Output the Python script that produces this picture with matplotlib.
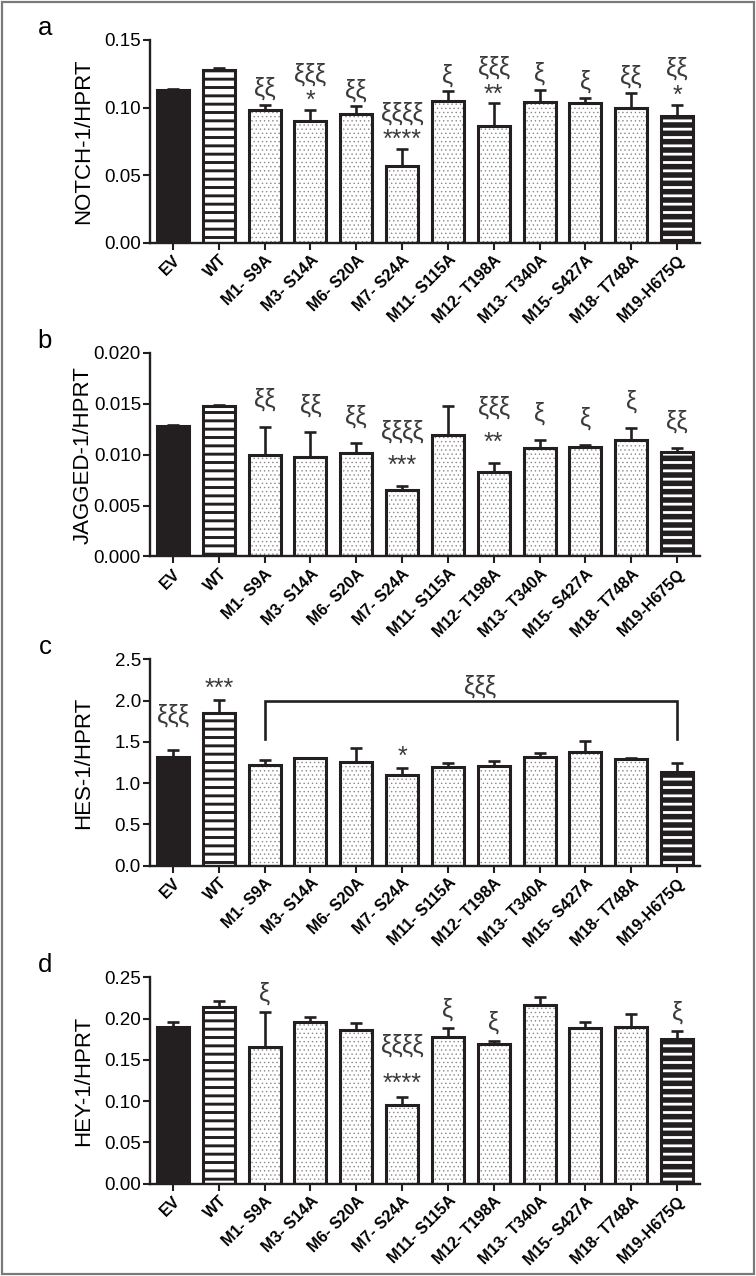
import matplotlib
matplotlib.use('Agg')
import matplotlib.pyplot as plt
from matplotlib.patches import Rectangle
from matplotlib.ticker import FormatStrFormatter

plt.rcParams['font.family'] = ['Liberation Sans', 'DejaVu Sans']

# groups on the x axis
groups = ['EV', 'WT', 'M1- S9A', 'M3- S14A', 'M6- S20A', 'M7- S24A', 'M11- S115A',
          'M12- T198A', 'M13- T340A', 'M15- S427A', 'M18- T748A', 'M19-H675Q']

# a: NOTCH-1
notch_mean = [0.113, 0.128, 0.098, 0.090, 0.095, 0.057, 0.105, 0.086, 0.104, 0.103, 0.100, 0.094]
notch_err = [0.001, 0.001, 0.004, 0.008, 0.006, 0.012, 0.007, 0.017, 0.009, 0.004, 0.011, 0.008]
notch_stars = ['', '', '', '*', '', '****', '', '**', '', '', '', '*']
notch_xi = ['', '', 'ξξ', 'ξξξ', 'ξξ', 'ξξξξ', 'ξ', 'ξξξ', 'ξ', 'ξ', 'ξξ', 'ξξ']

# b: JAGGED-1
jag_mean = [0.0128, 0.0148, 0.0100, 0.0098, 0.0102, 0.0065, 0.0119, 0.0083, 0.0106, 0.0107, 0.0114, 0.0103]
jag_err = [0.0001, 0.0001, 0.0027, 0.0024, 0.0009, 0.0004, 0.0029, 0.0009, 0.0008, 0.0002, 0.0012, 0.0003]
jag_stars = ['', '', '', '', '', '***', '', '**', '', '', '', '']
jag_xi = ['', '', 'ξξ', 'ξξ', 'ξξ', 'ξξξξ', '', 'ξξξ', 'ξ', 'ξ', 'ξ', 'ξξ']

# c: HES-1
hes_mean = [1.32, 1.85, 1.22, 1.30, 1.25, 1.10, 1.19, 1.21, 1.32, 1.38, 1.29, 1.13]
hes_err = [0.08, 0.16, 0.06, 0.005, 0.17, 0.08, 0.05, 0.06, 0.04, 0.13, 0.01, 0.11]
hes_stars = ['', '***', '', '', '', '*', '', '', '', '', '', '']
hes_xi = ['ξξξ', '', '', '', '', '', '', '', '', '', '', '']
hes_bracket = ('M1- S9A', 'M19-H675Q', 2.0, 1.53, 'ξξξ')

# d: HEY-1
hey_mean = [0.190, 0.214, 0.165, 0.196, 0.186, 0.095, 0.178, 0.169, 0.217, 0.188, 0.190, 0.175]
hey_err = [0.006, 0.007, 0.043, 0.006, 0.008, 0.010, 0.011, 0.004, 0.009, 0.008, 0.016, 0.010]
hey_stars = ['', '', '', '', '', '****', '', '', '', '', '', '']
hey_xi = ['', '', 'ξ', '', '', 'ξξξξ', 'ξ', 'ξ', '', '', '', 'ξ']

DARK = '#231f20'
ANN = '#3a3a3a'
LW = 2.2
W, H = 756, 1276

fig = plt.figure(figsize=(W / 100, H / 100), dpi=100)
fig.patches.append(Rectangle((2 / W, 2 / H), 1 - 4 / W, 1 - 4 / H, transform=fig.transFigure,
                             fill=False, edgecolor='#7a7a7a', linewidth=1.6))


def hatched_bar(ax, x, h, face, hatch, hcolor, hlw):
    plt.rcParams['hatch.linewidth'] = hlw
    b = ax.bar(x, h, width=0.7, color=face, edgecolor=hcolor, linewidth=0, hatch=hatch, zorder=2)
    for p in b:
        if hasattr(p, 'set_hatch_linewidth'):
            p.set_hatch_linewidth(hlw)
    ax.bar(x, h, width=0.7, color='none', edgecolor=DARK, linewidth=LW, zorder=3)


def note(ax, txt, xy, off, size):
    # stars sit high in the font, nudge them down a bit
    if txt.startswith('*'):
        off -= 5
    ax.annotate(txt, xy, xytext=(0, off), textcoords='offset pixels',
                ha='center', va='center', fontsize=size, color=ANN)


panels = [
    ('a', 'NOTCH-1/HPRT', notch_mean, notch_err, notch_stars, notch_xi, 0.15, 0.05, '%.2f', (14, 16, 22), None),
    ('b', 'JAGGED-1/HPRT', jag_mean, jag_err, jag_stars, jag_xi, 0.020, 0.005, '%.3f', (25, 27, 30), None),
    ('c', 'HES-1/HPRT', hes_mean, hes_err, hes_stars, hes_xi, 2.5, 0.5, '%.1f', (16, 34, 30), hes_bracket),
    ('d', 'HEY-1/HPRT', hey_mean, hey_err, hey_stars, hey_xi, 0.25, 0.05, '%.2f', (18, 18, 33), None),
]
tops = [40, 352.7, 659.3, 977.3]
bottoms = [242.5, 556.5, 865.5, 1183.5]

for k, (letter, ylab, mean, err, stars, xis, ymax, step, fmt, offs, bracket) in enumerate(panels):
    ax = fig.add_axes([150 / W, 1 - bottoms[k] / H, 550 / W, (bottoms[k] - tops[k]) / H])
    x = list(range(len(groups)))
    ax.bar(x[0], mean[0], width=0.7, color=DARK, edgecolor=DARK, linewidth=LW, zorder=3)
    hatched_bar(ax, x[1], mean[1], 'white', '--', DARK, 2.1)
    hatched_bar(ax, x[2:-1], mean[2:-1], 'white', '....', '#8a8a8a', 0.5)
    hatched_bar(ax, x[-1], mean[-1], DARK, '--', 'white', 2.0)
    ax.errorbar(x, mean, yerr=[[0] * len(err), err], fmt='none', ecolor=DARK,
                elinewidth=1.9, capsize=4.5, capthick=1.9, zorder=1)

    for i in x:
        top = mean[i] + err[i]
        if stars[i]:
            note(ax, stars[i], (i, top), offs[0], 18)
        if xis[i]:
            off = offs[0] + offs[2] if stars[i] else offs[1]
            note(ax, xis[i], (i, top), off, 18)

    if bracket:
        i0, i1 = groups.index(bracket[0]), groups.index(bracket[1])
        lev, leg = bracket[2], bracket[3]
        ax.plot([i0, i0, i1, i1], [leg, lev, lev, leg], color=DARK, lw=1.9, zorder=4,
                solid_joinstyle='miter', clip_on=False)
        note(ax, bracket[4], ((i0 + i1) / 2 + 0.2, lev), 14, 18)

    ax.set_xlim(-0.5, 11.5)
    ax.set_ylim(0, ymax)
    n = int(round(ymax / step))
    ax.set_yticks([step * j for j in range(n + 1)])
    ax.yaxis.set_major_formatter(FormatStrFormatter(fmt))
    ax.set_xticks(x)
    ax.set_xticklabels(groups, rotation=45, ha='right', va='top', rotation_mode='anchor',
                       fontsize=11.5, fontweight='bold')
    for s in ['top', 'right']:
        ax.spines[s].set_visible(False)
    for s in ['left', 'bottom']:
        ax.spines[s].set_linewidth(1.7)
        ax.spines[s].set_color(DARK)
    ax.tick_params(axis='y', length=5, width=1.5, labelsize=13.5, pad=1.5, color=DARK)
    ax.tick_params(axis='x', length=5, width=1.5, pad=2, color=DARK)
    ax.set_ylabel(ylab, fontsize=16)
    ax.yaxis.set_label_coords(-0.102, 0.5)
    fig.text(45 / W, 1 - (tops[k] - 12) / H, letter, fontsize=18.5, ha='center', va='center')

fig.savefig('out.png', dpi=100)
